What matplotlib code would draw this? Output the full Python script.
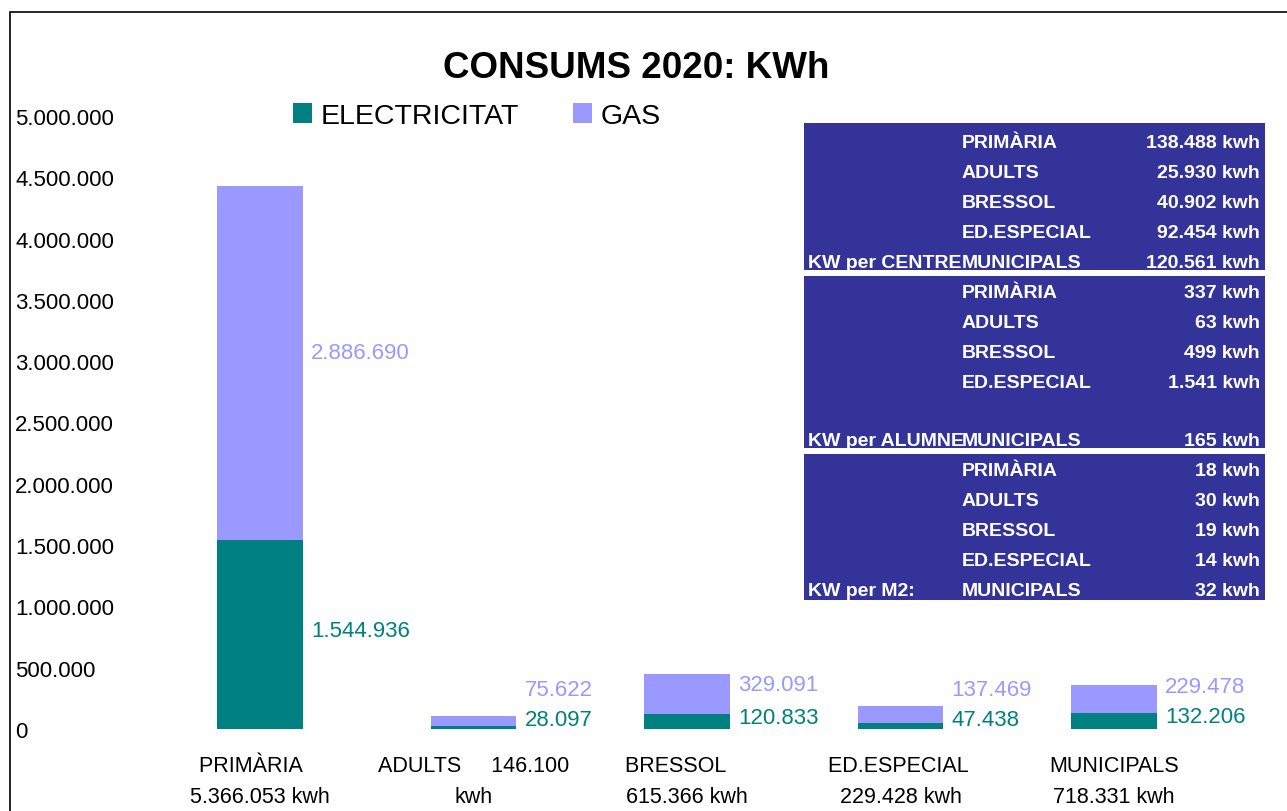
import matplotlib
matplotlib.use("Agg")
import matplotlib.pyplot as plt
from matplotlib.patches import Rectangle, Patch
from matplotlib.ticker import FuncFormatter

plt.rcParams['font.family'] = ['Liberation Sans', 'DejaVu Sans']

# ---------------- data ----------------
categories = ["PRIMÀRIA", "ADULTS", "BRESSOL", "ED.ESPECIAL", "MUNICIPALS"]
totals_text = ["5.366.053 kwh", "146.100\nkwh", "615.366 kwh", "229.428 kwh", "718.331 kwh"]
electricitat = [1544936, 28097, 120833, 47438, 132206]
gas = [2886690, 75622, 329091, 137469, 229478]
yticks = [0, 500000, 1000000, 1500000, 2000000, 2500000, 3000000, 3500000,
          4000000, 4500000, 5000000]

table_groups = ["KW per CENTRE", "KW per ALUMNE", "KW per M2:"]
table_centre = ["138.488 kwh", "25.930 kwh", "40.902 kwh", "92.454 kwh", "120.561 kwh"]
table_alumne = ["337 kwh", "63 kwh", "499 kwh", "1.541 kwh", "165 kwh"]
table_m2 = ["18 kwh", "30 kwh", "19 kwh", "14 kwh", "32 kwh"]

C_ELEC = "#008080"
C_GAS = "#9999FF"
C_TAB = "#333399"

W, H = 1287, 812
fig = plt.figure(figsize=(W / 100, H / 100), dpi=100)

def fx(px):
    return px / W

def fy(py):
    return 1 - py / H

def fmt(v):
    return f"{int(round(v)):,}".replace(",", ".")

# outer chart border
fig.patches.append(Rectangle((fx(10), -0.1), 1.2, fy(13) + 0.1, transform=fig.transFigure,
                             fill=False, edgecolor="black", linewidth=1.2))

ax = fig.add_axes([fx(153), fy(730), fx(1221) - fx(153), fy(117) - fy(730)])
x = list(range(len(categories)))
bw = 0.4
ax.bar(x, electricitat, width=bw, color=C_ELEC, label="ELECTRICITAT")
ax.bar(x, gas, width=bw, bottom=electricitat, color=C_GAS, label="GAS")
ax.set_xlim(-0.5, len(categories) - 0.5)
ax.set_ylim(0, 5000000)
for s in ax.spines.values():
    s.set_visible(False)

ax.set_yticks(yticks)
ax.yaxis.set_major_formatter(FuncFormatter(lambda v, p: fmt(v)))
ax.tick_params(axis='y', length=0, pad=(153 - 15) * 0.72, labelsize=16)
for t in ax.get_yticklabels():
    t.set_ha('left')

# trailing spaces as in the original category cells (shift first line slightly left)
trail = [3, 0, 4, 1, 0]
xlabels = []
for c, t, n in zip(categories, totals_text, trail):
    if "\n" in t:
        xlabels.append(c + "     " + t)
    else:
        xlabels.append(c + " " * n + "\n" + t)
ax.set_xticks(x)
ax.set_xticklabels(xlabels, fontsize=15.5, linespacing=1.6)
ax.tick_params(axis='x', length=0, pad=19)

# value labels
for i in x:
    e, g = electricitat[i], gas[i]
    ey = max(e / 2 + 35000, 76000)
    gy = max(e + g / 2 + 80000, ey + 245000)
    ax.annotate(fmt(e), (i + bw / 2, ey), xytext=(6, 0), textcoords="offset points",
                ha="left", va="center", fontsize=16, color=C_ELEC)
    ax.annotate(fmt(g), (i + bw / 2, gy), xytext=(6, 0), textcoords="offset points",
                ha="left", va="center", fontsize=16, color=C_GAS)

# legend
handles = [Patch(facecolor=C_ELEC, label="ELECTRICITAT"), Patch(facecolor=C_GAS, label="GAS")]
fig.legend(handles=handles, loc="center left", bbox_to_anchor=(fx(293), fy(117)),
           ncol=2, frameon=False, fontsize=20.5, handlelength=0.66, handleheight=0.66,
           handletextpad=0.3, columnspacing=1.9, borderpad=0, borderaxespad=0)

# title
fig.text(fx(636), fy(68), "CONSUMS 2020: KWh", ha="center", va="center",
         fontsize=26.5, fontweight="bold")

# table
blocks = [(124, 271, [144, 174, 204, 234, 264], table_centre),
          (277, 449, [294, 324, 354, 384, 442], table_alumne),
          (455, 601, [472, 502, 532, 562, 592], table_m2)]
for (top, bot, rows, vals), grp in zip(blocks, table_groups):
    fig.patches.append(Rectangle((fx(804), fy(bot)), fx(1265) - fx(804), fy(top) - fy(bot),
                                 transform=fig.transFigure, facecolor=C_TAB, edgecolor="none"))
    for cat, val, ry in zip(categories, vals, rows):
        fig.text(fx(962), fy(ry), cat, ha="left", va="center", color="white",
                 fontsize=14, fontweight="bold")
        fig.text(fx(1260), fy(ry), val, ha="right", va="center", color="white",
                 fontsize=14, fontweight="bold")
    fig.text(fx(808), fy(rows[-1]), grp, ha="left", va="center", color="white",
             fontsize=14, fontweight="bold")

fig.savefig("out.png", dpi=100)
